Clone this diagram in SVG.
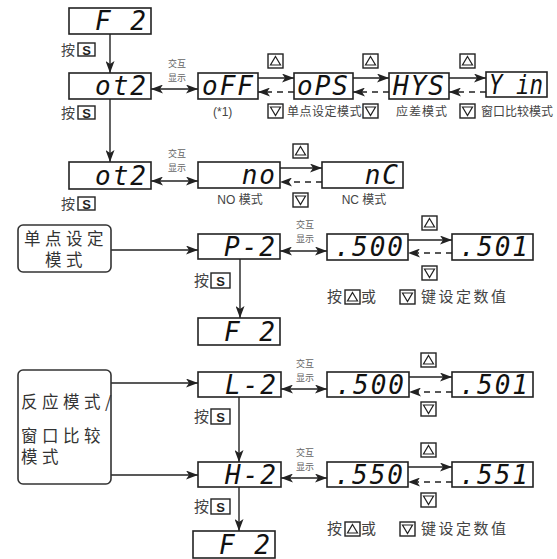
<svg xmlns="http://www.w3.org/2000/svg" xmlns:xlink="http://www.w3.org/1999/xlink" width="557" height="559" viewBox="0 0 557 559">
<style>
.d{fill:#fff;stroke:#222;stroke-width:1.6}
.seg{font-family:"DejaVu Sans Mono",monospace;font-weight:normal;font-style:italic;font-size:26px;fill:#111;letter-spacing:2px;text-anchor:end}
.ln{fill:none;stroke:#222;stroke-width:1.4}
.dash{stroke-dasharray:6 5}
.sm{font-family:"Noto Sans CJK SC",sans-serif;font-size:9px;fill:#666;text-anchor:middle}
.lb{font-family:"Liberation Sans","Noto Sans CJK SC",sans-serif;font-size:12px;fill:#444}
.cn{font-family:"Noto Sans CJK SC",sans-serif;fill:#444}
.big{font-family:"Noto Sans CJK SC",sans-serif;font-size:16.5px;fill:#333;letter-spacing:4.5px}
.mb{fill:#fff;stroke:#333;stroke-width:1.6}
.kb{fill:#fff;stroke:#222;stroke-width:1.4}
.st{font-family:"Liberation Sans",sans-serif;font-weight:bold;font-size:13px;fill:#222;text-anchor:middle}
</style>
<defs>
<marker id="ah" viewBox="0 0 12 9" refX="12" refY="4.5" markerWidth="12" markerHeight="9" markerUnits="userSpaceOnUse" orient="auto-start-reverse"><path d="M0,0 L12,4.5 L0,9 L3,4.5 z" fill="#222"/></marker>
<g id="ku"><rect class="kb" x="0" y="0" width="15" height="14"/><path d="M7.5,2.5 L12.5,11 L2.5,11 z" fill="none" stroke="#222" stroke-width="1.2"/></g>
<g id="kd"><rect class="kb" x="0" y="0" width="15" height="14"/><path d="M2.5,3 L12.5,3 L7.5,11.5 z" fill="none" stroke="#222" stroke-width="1.2"/></g>
<g id="ks"><rect class="kb" x="0" y="0" width="17" height="13"/><text class="st" x="8.5" y="11.5">S</text></g>
<g id="ks2"><rect class="kb" x="0" y="0" width="19" height="15"/><text class="st" x="9.5" y="13" font-size="14">S</text></g>
</defs>

<g id="connectors">
<line class="ln" x1="110" y1="34" x2="110" y2="73" marker-end="url(#ah)"/>
<line class="ln" x1="110" y1="99" x2="110" y2="162" marker-end="url(#ah)"/>
<line class="ln" x1="240" y1="259" x2="240" y2="318" marker-end="url(#ah)"/>
<line class="ln" x1="239" y1="397" x2="239" y2="462" marker-end="url(#ah)"/>
<line class="ln" x1="239" y1="487" x2="239" y2="531" marker-end="url(#ah)"/>
<line class="ln" x1="111" y1="250" x2="198" y2="250" marker-end="url(#ah)"/>
<line class="ln" x1="111" y1="383" x2="198" y2="383" marker-end="url(#ah)"/>
<line class="ln" x1="111" y1="475" x2="198" y2="475" marker-end="url(#ah)"/>
<line class="ln" x1="151" y1="89" x2="198" y2="89" marker-start="url(#ah)" marker-end="url(#ah)"/>
<line class="ln" x1="151" y1="181" x2="198" y2="181" marker-start="url(#ah)" marker-end="url(#ah)"/>
<line class="ln" x1="280" y1="251" x2="327" y2="251" marker-start="url(#ah)" marker-end="url(#ah)"/>
<line class="ln" x1="281" y1="389" x2="327" y2="389" marker-start="url(#ah)" marker-end="url(#ah)"/>
<line class="ln" x1="281" y1="478" x2="327" y2="478" marker-start="url(#ah)" marker-end="url(#ah)"/>
<line class="ln" x1="258" y1="78" x2="294" y2="78" marker-end="url(#ah)"/>
<line class="ln" x1="353" y1="78" x2="389" y2="78" marker-end="url(#ah)"/>
<line class="ln" x1="449" y1="78" x2="486" y2="78" marker-end="url(#ah)"/>
<line class="ln dash" x1="294" y1="92" x2="258" y2="92" marker-end="url(#ah)"/>
<line class="ln dash" x1="389" y1="92" x2="353" y2="92" marker-end="url(#ah)"/>
<line class="ln dash" x1="486" y1="92" x2="449" y2="92" marker-end="url(#ah)"/>
<line class="ln" x1="280" y1="168" x2="322" y2="168" marker-end="url(#ah)"/>
<line class="ln dash" x1="322" y1="182" x2="280" y2="182" marker-end="url(#ah)"/>
<line class="ln" x1="408" y1="240" x2="452" y2="240" marker-end="url(#ah)"/>
<line class="ln dash" x1="452" y1="253" x2="408" y2="253" marker-end="url(#ah)"/>
<line class="ln" x1="409" y1="377" x2="452" y2="377" marker-end="url(#ah)"/>
<line class="ln dash" x1="452" y1="392" x2="409" y2="392" marker-end="url(#ah)"/>
<line class="ln" x1="408" y1="467" x2="452" y2="467" marker-end="url(#ah)"/>
<line class="ln dash" x1="452" y1="482" x2="408" y2="482" marker-end="url(#ah)"/>
</g>

<g id="n-f2a"><rect class="d" x="69" y="8" width="82" height="26"/><text class="seg" x="148" y="30">F 2</text></g>
<g id="n-ot2a"><rect class="d" x="69" y="73" width="82" height="26"/><text class="seg" x="148" y="95">ot2</text></g>
<g id="n-off"><rect class="d" x="198" y="73" width="60" height="26"/><text class="seg" x="255" y="95">oFF</text></g>
<g id="n-ops"><rect class="d" x="294" y="73" width="59" height="26"/><text class="seg" x="350" y="95">oPS</text></g>
<g id="n-hys"><rect class="d" x="389" y="73" width="60" height="26"/><text class="seg" x="446" y="95">HYS</text></g>
<g id="n-yin"><rect class="d" x="486" y="72" width="61" height="25"/><text class="seg" x="489" y="94" style="letter-spacing:0;text-anchor:start" textLength="54" lengthAdjust="spacingAndGlyphs">Y in</text></g>
<g id="n-ot2b"><rect class="d" x="69" y="162" width="82" height="27"/><text class="seg" x="148" y="185">ot2</text></g>
<g id="n-no"><rect class="d" x="198" y="162" width="82" height="26"/><text class="seg" x="277" y="184">no</text></g>
<g id="n-nc"><rect class="d" x="322" y="162" width="81" height="26"/><text class="seg" x="400" y="184">nC</text></g>
<g id="n-p2"><rect class="d" x="198" y="234" width="82" height="25"/><text class="seg" x="277" y="256">P-2</text></g>
<g id="n-500a"><rect class="d" x="327" y="234" width="81" height="26"/><text class="seg" x="405" y="256">.500</text></g>
<g id="n-501a"><rect class="d" x="452" y="234" width="81" height="26"/><text class="seg" x="530" y="256">.501</text></g>
<g id="n-f2b"><rect class="d" x="198" y="318" width="82" height="27"/><text class="seg" x="277" y="341">F 2</text></g>
<g id="n-l2"><rect class="d" x="198" y="372" width="83" height="25"/><text class="seg" x="278" y="394">L-2</text></g>
<g id="n-500b"><rect class="d" x="327" y="372" width="82" height="25"/><text class="seg" x="406" y="394">.500</text></g>
<g id="n-501b"><rect class="d" x="452" y="372" width="81" height="25"/><text class="seg" x="530" y="394">.501</text></g>
<g id="n-h2"><rect class="d" x="198" y="462" width="83" height="25"/><text class="seg" x="278" y="484">H-2</text></g>
<g id="n-550"><rect class="d" x="327" y="462" width="81" height="25"/><text class="seg" x="405" y="484">.550</text></g>
<g id="n-551"><rect class="d" x="452" y="462" width="81" height="25"/><text class="seg" x="530" y="484">.551</text></g>
<g id="n-f2c"><rect class="d" x="193" y="531" width="82" height="27"/><text class="seg" x="272" y="554">F 2</text></g>

<g id="n-mode1"><rect class="mb" x="18" y="225" width="93" height="47" rx="5"/><text class="big" x="66" y="245" text-anchor="middle">单点设定</text><text class="big" x="66" y="266" text-anchor="middle">模式</text></g>
<g id="n-mode2"><rect class="mb" x="18" y="370" width="93" height="114" rx="5"/><text class="big" x="21" y="408">反应模式/</text><text class="big" x="21" y="442">窗口比较</text><text class="big" x="21" y="463">模式</text></g>

<g id="labels">
<text class="sm" x="177" y="66.5">交互</text><text class="sm" x="177" y="80.5">显示</text>
<text class="sm" x="177" y="156.5">交互</text><text class="sm" x="177" y="170.5">显示</text>
<text class="sm" x="305" y="227.5">交互</text><text class="sm" x="305" y="241.5">显示</text>
<text class="sm" x="305" y="366.5">交互</text><text class="sm" x="305" y="380.5">显示</text>
<text class="sm" x="305" y="455.5">交互</text><text class="sm" x="305" y="469.5">显示</text>

<text class="cn" x="61" y="55" font-size="14">按</text><use xlink:href="#ks" x="78" y="43"/>
<text class="cn" x="61" y="118" font-size="14">按</text><use xlink:href="#ks" x="78" y="106"/>
<text class="cn" x="61" y="209" font-size="14">按</text><use xlink:href="#ks" x="78" y="197"/>
<text class="cn" x="194" y="286" font-size="15">按</text><use xlink:href="#ks2" x="211" y="273"/>
<text class="cn" x="194" y="422" font-size="15">按</text><use xlink:href="#ks2" x="211" y="409"/>
<text class="cn" x="194" y="512" font-size="15">按</text><use xlink:href="#ks2" x="211" y="499"/>

<use xlink:href="#ku" x="268" y="54"/><use xlink:href="#ku" x="363" y="54"/><use xlink:href="#ku" x="460" y="54"/>
<use xlink:href="#kd" x="268" y="104"/><use xlink:href="#kd" x="363" y="104"/><use xlink:href="#kd" x="460" y="104"/>
<text class="lb" x="213" y="116">(*1)</text>
<text class="cn" x="287" y="116" font-size="12" letter-spacing="0.5">单点设定模式</text>
<text class="cn" x="396" y="116" font-size="12" letter-spacing="1">应差模式</text>
<text class="cn" x="481" y="116" font-size="12">窗口比较模式</text>

<use xlink:href="#ku" x="293" y="144"/><use xlink:href="#kd" x="293" y="193"/>
<text class="lb" x="240" y="204" text-anchor="middle">NO 模式</text>
<text class="lb" x="364" y="204" text-anchor="middle">NC 模式</text>

<use xlink:href="#ku" x="422" y="216"/><use xlink:href="#kd" x="422" y="266"/>
<use xlink:href="#ku" x="421" y="353"/><use xlink:href="#kd" x="421" y="402"/>
<use xlink:href="#ku" x="421" y="443"/><use xlink:href="#kd" x="421" y="493"/>

<text class="cn" x="327" y="302" font-size="15">按</text><use xlink:href="#ku" x="345" y="290"/><text class="cn" x="361" y="302" font-size="15">或</text><use xlink:href="#kd" x="400" y="290"/><text class="cn" x="421" y="302" font-size="15" letter-spacing="2.5">键设定数值</text>
<text class="cn" x="327" y="534" font-size="15">按</text><use xlink:href="#ku" x="345" y="522"/><text class="cn" x="361" y="534" font-size="15">或</text><use xlink:href="#kd" x="400" y="522"/><text class="cn" x="421" y="534" font-size="15" letter-spacing="2.5">键设定数值</text>
</g>
</svg>
